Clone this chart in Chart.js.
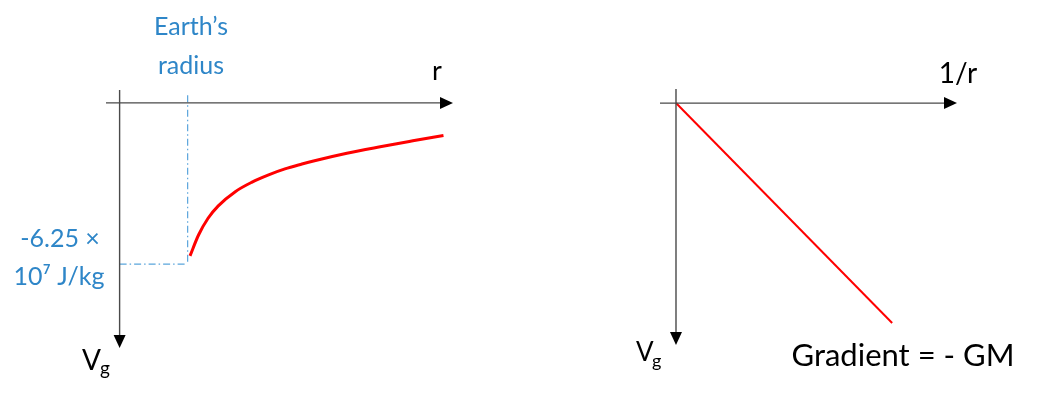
<!DOCTYPE html>
<html>
<head>
<meta charset="utf-8">
<script src="https://cdn.jsdelivr.net/npm/chart.js@4.4.1/dist/chart.umd.min.js"></script>
<style>
  body { margin: 0; background: #fff; }
  .lienzo { position: relative; width: 1062px; height: 420px; }
  .lienzo canvas { position: absolute; left: 0; top: 0; }
</style>
</head>
<body>
<div class="lienzo">
  <canvas id="graficoR" width="1062" height="420"></canvas>
  <canvas id="graficoInv" width="1062" height="420"></canvas>
</div>
<script>
// Datos (r en radios terrestres, V en 10^7 J/kg)
const radioR     = [1.035, 1.16, 1.30, 1.45, 1.70, 1.94, 2.19, 2.43, 2.68, 2.85, 3.34, 3.83, 4.31, 4.76];
const potencialV = [-5.93, -5.12, -4.47, -3.99, -3.44, -3.08, -2.79, -2.56, -2.37, -2.25, -1.95, -1.70, -1.47, -1.26];
const radioTierra = 1;
const vSuperficie = -6.25;
const topeGuia = 0.3;

// Segundo grafico: V contra 1/r (unidades arbitrarias)
const inversoR = [0, 1];
const potencialInv = [0, -1];

const AZUL = '#2e86c8';
const ROJO = '#ff0000';
const FUENTE = 'Lato, "DejaVu Sans", sans-serif';

function puntos(xs, ys) {
    return xs.map(function (x, i) { return { x: x, y: ys[i] }; });
}

// Ejes con flechas en el cero de cada escala
const pluginEjes = {
    id: 'ejes',
    afterDraw(chart) {
        const ctx = chart.ctx, a = chart.chartArea;
        const x0 = chart.scales.x.getPixelForValue(0);
        const y0 = chart.scales.y.getPixelForValue(0);
        ctx.save();
        ctx.strokeStyle = '#4a4a4a';
        ctx.lineWidth = 1.4;
        ctx.beginPath();
        ctx.moveTo(a.left, y0); ctx.lineTo(a.right - 10, y0);
        ctx.moveTo(x0, a.top); ctx.lineTo(x0, a.bottom - 10);
        ctx.stroke();
        ctx.fillStyle = '#000';
        ctx.beginPath();
        ctx.moveTo(a.right, y0); ctx.lineTo(a.right - 13, y0 - 6); ctx.lineTo(a.right - 13, y0 + 6);
        ctx.closePath(); ctx.fill();
        ctx.beginPath();
        ctx.moveTo(x0, a.bottom); ctx.lineTo(x0 - 6, a.bottom - 13); ctx.lineTo(x0 + 6, a.bottom - 13);
        ctx.closePath(); ctx.fill();
        ctx.restore();
    }
};

// Rotulos de texto
const pluginRotulos = {
    id: 'rotulos',
    afterDraw(chart, args, opts) {
        const ctx = chart.ctx;
        ctx.save();
        ctx.textBaseline = 'alphabetic';
        (opts.textos || []).forEach(function (t) {
            ctx.font = t.tam + 'px ' + FUENTE;
            ctx.fillStyle = t.color || '#000';
            ctx.textAlign = t.alin || 'center';
            ctx.fillText(t.txt, t.x, t.y);
        });
        ctx.restore();
    }
};

function opcionesBase(xMin, xMax, yMin, yMax, relleno, textos) {
    return {
        responsive: false,
        animation: false,
        layout: { padding: relleno },
        plugins: { legend: { display: false }, tooltip: { enabled: false }, rotulos: { textos: textos } },
        scales: {
            x: { type: 'linear', min: xMin, max: xMax, display: false },
            y: { type: 'linear', min: yMin, max: yMax, display: false }
        },
        elements: { point: { radius: 0 } }
    };
}

// Grafico V contra r
new Chart(document.getElementById('graficoR').getContext('2d'), {
    type: 'scatter',
    data: {
        datasets: [{
            data: puntos(radioR, potencialV),
            showLine: true,
            borderColor: ROJO,
            borderWidth: 3,
            cubicInterpolationMode: 'monotone'
        }, {
            data: [{ x: radioTierra, y: topeGuia }, { x: radioTierra, y: vSuperficie }],
            showLine: true,
            borderColor: '#5aa5dc',
            borderWidth: 1.2,
            borderDash: [7, 3, 1.5, 3]
        }, {
            data: [{ x: 0, y: vSuperficie }, { x: radioTierra, y: vSuperficie }],
            showLine: true,
            borderColor: '#5aa5dc',
            borderWidth: 1.2,
            borderDash: [7, 3, 1.5, 3]
        }]
    },
    options: opcionesBase(-0.2, 4.9, -9.5, 0.5, { left: 106, right: 1062 - 453, top: 90, bottom: 72 }, [
        { txt: "Earth’s", x: 191, y: 35, tam: 25, color: AZUL },
        { txt: 'radius', x: 191, y: 74, tam: 25, color: AZUL },
        { txt: '-6.25 ×', x: 60, y: 247, tam: 25, color: AZUL },
        { txt: '10⁷ J/kg', x: 59, y: 285, tam: 25, color: AZUL },
        { txt: 'r', x: 437, y: 80, tam: 27 },
        { txt: 'V', x: 82, y: 370, tam: 28, alin: 'left' },
        { txt: 'g', x: 100, y: 375, tam: 19, alin: 'left' }
    ]),
    plugins: [pluginEjes, pluginRotulos]
});

// Grafico V contra 1/r
new Chart(document.getElementById('graficoInv').getContext('2d'), {
    type: 'scatter',
    data: {
        datasets: [{
            data: puntos(inversoR, potencialInv),
            showLine: true,
            borderColor: ROJO,
            borderWidth: 2
        }]
    },
    options: opcionesBase(-0.074, 1.3, -1.1, 0.064, { left: 660, right: 1062 - 957, top: 89, bottom: 75 }, [
        { txt: '1/r', x: 958, y: 83, tam: 28 },
        { txt: 'V', x: 636, y: 361, tam: 26, alin: 'left' },
        { txt: 'g', x: 652, y: 367, tam: 18, alin: 'left' },
        { txt: 'Gradient = - GM', x: 903, y: 366, tam: 31 }
    ]),
    plugins: [pluginEjes, pluginRotulos]
});
</script>
</body>
</html>
